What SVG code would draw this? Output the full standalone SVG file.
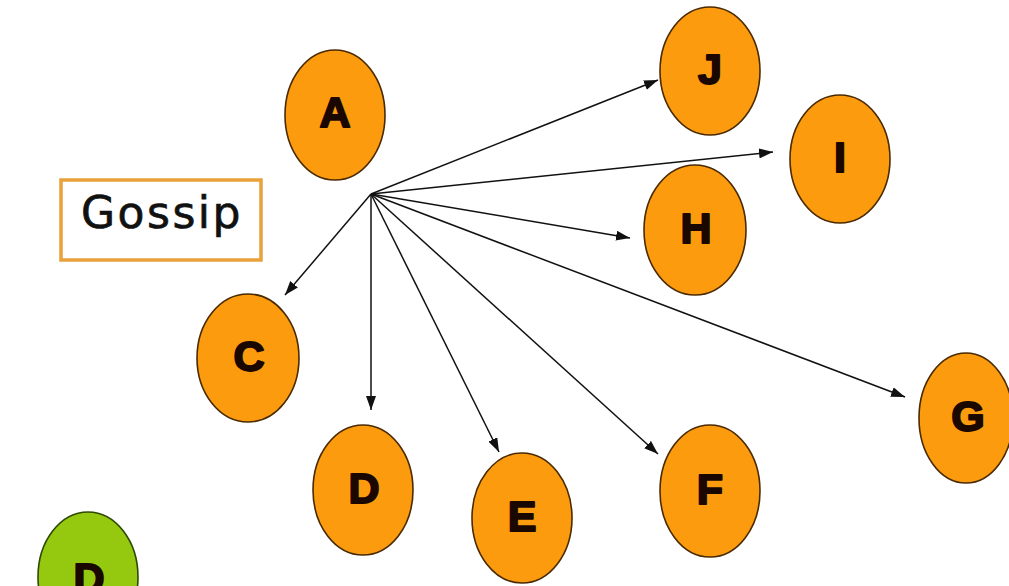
<svg xmlns="http://www.w3.org/2000/svg" width="1009" height="586" viewBox="0 0 1009 586">
  <style>
    .node ellipse { fill: #FD9B0E; stroke: #4a2a00; stroke-width: 1.6; }
    .node.green ellipse { fill: #95C90F; stroke: #2f4a00; }
    .node text { font-family: "Liberation Sans", Arial, sans-serif; font-weight: bold; font-size: 43px; fill: #1a0800; stroke: #1a0800; stroke-width: 2; stroke-linejoin: round; text-anchor: middle; }
    .edge { stroke: #111; stroke-width: 1.5; fill: none; marker-end: url(#arrow); }
    .title rect { fill: #fff; stroke: #E9A23B; stroke-width: 3.5; }
    .title text { font-family: "DejaVu Sans", Verdana, sans-serif; font-size: 44px; fill: #111; stroke: #111; stroke-width: 0.7; letter-spacing: 2.5px; }
  </style>
  <defs>
    <marker id="arrow" viewBox="0 0 14 10" refX="14" refY="5" markerWidth="14" markerHeight="10" markerUnits="userSpaceOnUse" orient="auto">
      <path d="M0,0 L14,5 L0,10 Z" fill="#111"/>
    </marker>
  </defs>
  <rect width="1009" height="586" fill="#fff"/>

  <g id="gossip" class="title">
    <rect x="61" y="180" width="200" height="80"/>
    <text x="81" y="228">Gossip</text>
  </g>

  <g id="connectors">
    <line class="edge" x1="371" y1="194" x2="658" y2="80"/>
    <line class="edge" x1="371" y1="194" x2="773" y2="152"/>
    <line class="edge" x1="371" y1="194" x2="630" y2="238"/>
    <line class="edge" x1="371" y1="194" x2="905" y2="397"/>
    <line class="edge" x1="371" y1="194" x2="658" y2="454"/>
    <line class="edge" x1="371" y1="194" x2="499" y2="452"/>
    <line class="edge" x1="371" y1="194" x2="371" y2="410"/>
    <line class="edge" x1="371" y1="194" x2="285" y2="295"/>
  </g>

  <g id="node-A" class="node"><ellipse cx="335" cy="115" rx="50" ry="65"/><text x="335" y="127">A</text></g>
  <g id="node-J" class="node"><ellipse cx="710" cy="71" rx="50" ry="64"/><text x="710" y="84">J</text></g>
  <g id="node-I" class="node"><ellipse cx="840" cy="159" rx="50" ry="64"/><text x="840" y="172">I</text></g>
  <g id="node-H" class="node"><ellipse cx="695" cy="230" rx="51" ry="65"/><text x="696" y="243">H</text></g>
  <g id="node-C" class="node"><ellipse cx="248" cy="358" rx="51" ry="64"/><text x="249" y="371">C</text></g>
  <g id="node-G" class="node"><ellipse cx="966" cy="418" rx="47" ry="65"/><text x="968" y="431">G</text></g>
  <g id="node-D" class="node"><ellipse cx="363" cy="490" rx="50" ry="65"/><text x="364" y="503">D</text></g>
  <g id="node-E" class="node"><ellipse cx="522" cy="518" rx="50" ry="65"/><text x="522" y="531">E</text></g>
  <g id="node-F" class="node"><ellipse cx="710" cy="491" rx="50" ry="66"/><text x="710" y="504">F</text></g>
  <g id="node-D2" class="node green"><ellipse cx="88" cy="577" rx="50" ry="65"/><text x="89" y="593">D</text></g>
</svg>
